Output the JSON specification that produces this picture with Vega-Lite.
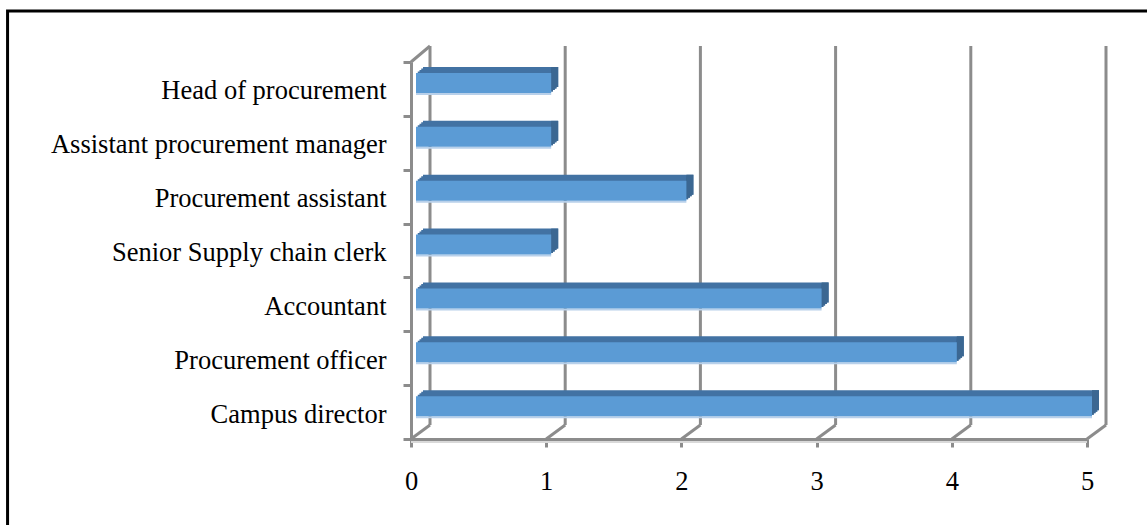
{
  "$schema": "https://vega.github.io/schema/vega-lite/v6.json",
  "width": 676,
  "height": 377,
  "autosize": {"type": "none"},
  "padding": {"left": 411, "top": 62, "right": 60, "bottom": 86},
  "background": "white",
  "config": {
    "view": {"stroke": null},
    "font": "Liberation Serif",
    "axisX": {"domainColor": "#8c8c8c", "domainWidth": 3, "tickColor": "#8c8c8c", "tickWidth": 3, "tickSize": 8, "labelFont": "Liberation Serif", "labelFontSize": 26.5, "labelColor": "#000000", "labelPadding": 21, "grid": false, "labelOverlap": false, "labelFlush": false},
    "axisY": {"domainColor": "#8c8c8c", "domainWidth": 3, "tickColor": "#8c8c8c", "tickWidth": 3, "tickSize": 8, "labelFont": "Liberation Serif", "labelFontSize": 26.5, "labelColor": "#000000", "labelPadding": 17, "labelOffset": 2, "grid": false, "tickBand": "extent", "labelLimit": 500}
  },
  "datasets": {
    "roles": [
      {"role": "Head of procurement", "count": 1},
      {"role": "Assistant procurement manager", "count": 1},
      {"role": "Procurement assistant", "count": 2},
      {"role": "Senior Supply chain clerk", "count": 1},
      {"role": "Accountant", "count": 3},
      {"role": "Procurement officer", "count": 4},
      {"role": "Campus director", "count": 5}
    ],
    "ticks": [{"v": 0}, {"v": 1}, {"v": 2}, {"v": 3}, {"v": 4}, {"v": 5}]
  },
  "resolve": {"scale": {"y": "independent"}},
  "layer": [
    {
      "data": {"name": "ticks"},
      "encoding": {
        "x": {"field": "v", "type": "quantitative", "scale": {"domain": [0, 5], "nice": false}, "title": null, "axis": {"values": [0, 1, 2, 3, 4, 5], "format": "d", "labelOverlap": false, "labelFlush": false, "labelFontSize": 26.5, "labelPadding": 21}},
        "y": {"datum": 0, "type": "quantitative", "scale": {"domain": [0, 1], "nice": false}, "axis": null}
      },
      "layer": [
        {
          "mark": {"type": "rule", "color": "#8c8c8c", "strokeWidth": 3, "xOffset": 19, "yOffset": -14, "y2Offset": -16},
          "encoding": {"y2": {"datum": 1}}
        },
        {
          "mark": {"type": "rule", "color": "#8c8c8c", "strokeWidth": 3, "xOffset": 0, "x2Offset": 19, "yOffset": 0, "y2Offset": -14},
          "encoding": {"x2": {"field": "v"}, "y2": {"datum": 0}}
        },
        {
          "transform": [{"filter": "datum.v == 0"}],
          "mark": {"type": "rule", "color": "#8c8c8c", "strokeWidth": 3, "xOffset": 0, "x2Offset": 19, "yOffset": 0, "y2Offset": -16},
          "encoding": {"y": {"datum": 1, "type": "quantitative", "axis": null}, "x2": {"field": "v"}, "y2": {"datum": 1}}
        },
        {
          "transform": [{"filter": "datum.v == 0"}],
          "mark": {"type": "rule", "color": "#d9d9d9", "strokeWidth": 2, "yOffset": 3, "y2Offset": 3},
          "encoding": {"x2": {"datum": 5}, "y2": {"datum": 0}}
        },
        {
          "transform": [{"filter": "datum.v == 0"}],
          "mark": {"type": "rect", "fill": null, "stroke": "#000000", "strokeWidth": 3},
          "encoding": {"x": {"datum": -2.984, "type": "quantitative"}, "x2": {"datum": 5.6}, "y": {"datum": 1.135, "type": "quantitative", "axis": null}, "y2": {"datum": -0.3}}
        }
      ]
    },
    {
      "data": {"name": "roles"},
      "encoding": {
        "y": {"field": "role", "type": "nominal", "title": null, "sort": ["Head of procurement", "Assistant procurement manager", "Procurement assistant", "Senior Supply chain clerk", "Accountant", "Procurement officer", "Campus director"], "scale": {"paddingInner": 0, "paddingOuter": 0}},
        "x": {"field": "count", "type": "quantitative", "title": null}
      },
      "layer": [
        {"mark": {"type": "bar", "color": "#4272a3", "height": 20, "xOffset": 6.75, "x2Offset": 6.75, "yOffset": -7.43}, "encoding": {"x2": {"datum": 0}}},
        {"mark": {"type": "bar", "color": "#4272a3", "height": 20, "xOffset": 8.5, "x2Offset": 8.5, "yOffset": -8.93}, "encoding": {"x2": {"datum": 0}}},
        {"mark": {"type": "bar", "color": "#4272a3", "height": 20, "xOffset": 10.25, "x2Offset": 10.25, "yOffset": -10.43}, "encoding": {"x2": {"datum": 0}}},
        {"mark": {"type": "bar", "color": "#4272a3", "height": 20, "xOffset": 12, "x2Offset": 12, "yOffset": -11.93}, "encoding": {"x2": {"datum": 0}}},
        {"mark": {"type": "bar", "color": "#3b6792", "height": 20, "xOffset": 5, "x2Offset": 6.75, "yOffset": -7.43}, "encoding": {"x2": {"field": "count"}}},
        {"mark": {"type": "bar", "color": "#3b6792", "height": 20, "xOffset": 5, "x2Offset": 8.5, "yOffset": -8.93}, "encoding": {"x2": {"field": "count"}}},
        {"mark": {"type": "bar", "color": "#3b6792", "height": 20, "xOffset": 5, "x2Offset": 10.25, "yOffset": -10.43}, "encoding": {"x2": {"field": "count"}}},
        {"mark": {"type": "bar", "color": "#3b6792", "height": 20, "xOffset": 5, "x2Offset": 12, "yOffset": -11.93}, "encoding": {"x2": {"field": "count"}}},
        {"mark": {"type": "bar", "color": "#b8d0ea", "height": 2, "xOffset": 5, "x2Offset": 5, "yOffset": 5.07}, "encoding": {"x2": {"datum": 0}}},
        {"mark": {"type": "bar", "color": "#5b9bd5", "height": 20, "xOffset": 5, "x2Offset": 5, "yOffset": -5.93}, "encoding": {"x2": {"datum": 0}}}
      ]
    }
  ]
}
